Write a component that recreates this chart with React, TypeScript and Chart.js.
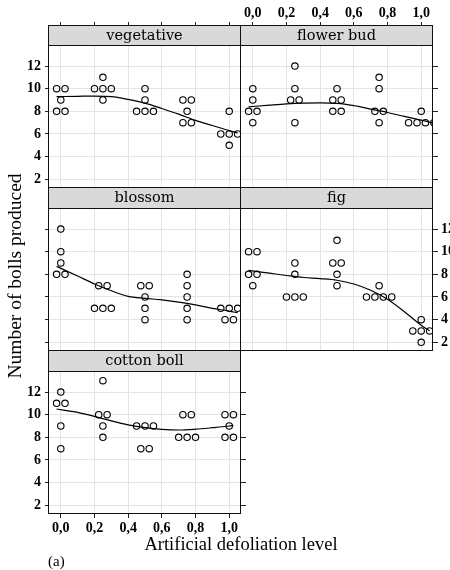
import React, { useEffect, useRef } from 'react';
import { Chart, registerables } from 'chart.js';

Chart.register(...registerables);

// ---------------- data ----------------
const xTickValues = [0, 0.2, 0.4, 0.6, 0.8, 1.0];
const xTickLabels = ['0,0', '0,2', '0,4', '0,6', '0,8', '1,0'];
const yTickValues = [2, 4, 6, 8, 10, 12];
const yTickLabels = ['2', '4', '6', '8', '10', '12'];

const panelNames = ['vegetative', 'flower bud', 'blossom', 'fig', 'cotton boll'];

// observed points (x = defoliation level, spread sideways as in the figure)
const vegetativeX = [-0.025, 0.025, 0, -0.025, 0.025, 0.25, 0.2, 0.25, 0.3, 0.25, 0.5, 0.5, 0.45, 0.5, 0.55, 0.725, 0.775, 0.75, 0.725, 0.775, 1.0, 0.95, 1.0, 1.05, 1.0];
const vegetativeY = [10, 10, 9, 8, 8, 11, 10, 10, 10, 9, 10, 9, 8, 8, 8, 9, 9, 8, 7, 7, 8, 6, 6, 6, 5];

const flowerBudX = [0, 0, -0.025, 0.025, 0, 0.25, 0.25, 0.225, 0.275, 0.25, 0.5, 0.475, 0.525, 0.475, 0.525, 0.75, 0.75, 0.725, 0.775, 0.75, 1.0, 0.925, 0.975, 1.025, 1.075];
const flowerBudY = [10, 9, 8, 8, 7, 12, 10, 9, 9, 7, 10, 9, 9, 8, 8, 11, 10, 8, 8, 7, 8, 7, 7, 7, 7];

const blossomX = [0, 0, 0, -0.025, 0.025, 0.225, 0.275, 0.2, 0.25, 0.3, 0.475, 0.525, 0.5, 0.5, 0.5, 0.75, 0.75, 0.75, 0.75, 0.75, 0.95, 1.0, 1.05, 0.975, 1.025];
const blossomY = [12, 10, 9, 8, 8, 7, 7, 5, 5, 5, 7, 7, 6, 5, 4, 8, 7, 6, 5, 4, 5, 5, 5, 4, 4];

const figX = [-0.025, 0.025, -0.025, 0.025, 0, 0.25, 0.25, 0.2, 0.25, 0.3, 0.5, 0.475, 0.525, 0.5, 0.5, 0.75, 0.675, 0.725, 0.775, 0.825, 1.0, 0.95, 1.0, 1.05, 1.0];
const figY = [10, 10, 8, 8, 7, 9, 8, 6, 6, 6, 11, 9, 9, 8, 7, 7, 6, 6, 6, 6, 4, 3, 3, 3, 2];

const cottonBollX = [0, -0.025, 0.025, 0, 0, 0.25, 0.225, 0.275, 0.25, 0.25, 0.45, 0.5, 0.55, 0.475, 0.525, 0.725, 0.775, 0.7, 0.75, 0.8, 0.975, 1.025, 1.0, 0.975, 1.025];
const cottonBollY = [12, 11, 11, 9, 7, 13, 10, 10, 9, 8, 9, 9, 9, 7, 7, 10, 10, 8, 8, 8, 10, 10, 9, 8, 8];

// smooth (loess-like) curves
const vegetativeSmoothX = [-0.025, 0.1, 0.2, 0.3, 0.4, 0.5, 0.6, 0.7, 0.8, 0.9, 1.0, 1.05];
const vegetativeSmoothY = [9.3, 9.33, 9.35, 9.3, 9.05, 8.72, 8.25, 7.75, 7.2, 6.75, 6.3, 6.1];

const flowerBudSmoothX = [-0.025, 0.1, 0.2, 0.3, 0.4, 0.5, 0.6, 0.7, 0.8, 0.9, 1.0, 1.075];
const flowerBudSmoothY = [8.4, 8.55, 8.66, 8.73, 8.75, 8.7, 8.5, 8.2, 7.9, 7.55, 7.22, 6.95];

const blossomSmoothX = [-0.025, 0.1, 0.2, 0.3, 0.4, 0.5, 0.6, 0.7, 0.8, 0.9, 1.0, 1.05];
const blossomSmoothY = [8.7, 7.85, 7.15, 6.55, 6.05, 5.88, 5.75, 5.55, 5.3, 5.0, 4.75, 4.6];

const figSmoothX = [-0.025, 0.1, 0.2, 0.3, 0.4, 0.5, 0.6, 0.7, 0.8, 0.9, 1.0, 1.05];
const figSmoothY = [8.35, 8.1, 7.9, 7.72, 7.62, 7.48, 7.15, 6.6, 5.8, 4.7, 3.5, 3.0];

const cottonBollSmoothX = [-0.025, 0.1, 0.2, 0.3, 0.4, 0.5, 0.6, 0.7, 0.8, 0.9, 1.0, 1.025];
const cottonBollSmoothY = [10.5, 10.2, 9.85, 9.45, 9.1, 8.85, 8.7, 8.65, 8.72, 8.85, 9.0, 9.05];

const pointsX = [vegetativeX, flowerBudX, blossomX, figX, cottonBollX];
const pointsY = [vegetativeY, flowerBudY, blossomY, figY, cottonBollY];
const smoothX = [vegetativeSmoothX, flowerBudSmoothX, blossomSmoothX, figSmoothX, cottonBollSmoothX];
const smoothY = [vegetativeSmoothY, flowerBudSmoothY, blossomSmoothY, figSmoothY, cottonBollSmoothY];

// ---------------- layout / style ----------------
const W = 450;
const H = 570;
const X_MIN = -0.07;
const X_MAX = 1.07;
const Y_MIN = 1.23;
const Y_MAX = 13.77;
const GRID = '#e4e4e4';
const TICK = '#222222';
const TICK_FONT = { family: '"Liberation Serif", serif', size: 14, weight: 'bold' as const };
const STRIP_FONT = '14.5px "DejaVu Serif", serif';

type Mode = 'none' | 'ticks' | 'labels';
interface PanelLayout {
  left: number; right: number; top: number; plotTop: number; bottom: number;
  xPos: 'top' | 'bottom'; xMode: Mode; yLeft: Mode; yRight: Mode;
}

const layouts: PanelLayout[] = [
  { left: 49, right: 241, top: 26, plotTop: 46, bottom: 188, xPos: 'top', xMode: 'ticks', yLeft: 'labels', yRight: 'none' },
  { left: 241, right: 433, top: 26, plotTop: 46, bottom: 188, xPos: 'top', xMode: 'labels', yLeft: 'none', yRight: 'ticks' },
  { left: 49, right: 241, top: 188, plotTop: 209, bottom: 351, xPos: 'bottom', xMode: 'none', yLeft: 'ticks', yRight: 'none' },
  { left: 241, right: 433, top: 188, plotTop: 209, bottom: 351, xPos: 'bottom', xMode: 'none', yLeft: 'none', yRight: 'labels' },
  { left: 49, right: 241, top: 351, plotTop: 372, bottom: 514, xPos: 'bottom', xMode: 'labels', yLeft: 'labels', yRight: 'ticks' },
];

const xSize = (m: Mode) => (m === 'labels' ? 24 : m === 'ticks' ? 4 : 0);
const ySize = (pos: 'left' | 'right', m: Mode) =>
  m === 'none' ? 0 : pos === 'left' ? (m === 'labels' ? 30 : 4) : (m === 'labels' ? 17 : 5);

const stripPlugin = {
  id: 'strip',
  afterDraw(chart: any, _args: any, opts: any) {
    const { ctx, chartArea } = chart;
    const { left, right, top, bottom } = chartArea;
    const sb = chart.scales.y.getPixelForValue(Y_MAX);
    const l = Math.round(left) - 0.5;
    const r = Math.round(right) - 0.5;
    const t = Math.round(top) - 0.5;
    const b = Math.round(bottom) - 0.5;
    const s = Math.round(sb) - 0.5;
    ctx.save();
    ctx.fillStyle = '#d9d9d9';
    ctx.fillRect(l, t, r - l, s - t);
    ctx.strokeStyle = '#111';
    ctx.lineWidth = 1;
    ctx.beginPath();
    ctx.moveTo(l, s);
    ctx.lineTo(r, s);
    ctx.stroke();
    ctx.strokeRect(l, t, r - l, b - t);
    ctx.fillStyle = '#000';
    ctx.font = STRIP_FONT;
    ctx.textAlign = 'center';
    ctx.textBaseline = 'middle';
    ctx.fillText(opts.label, (l + r) / 2, (t + s) / 2 + 0.5);
    ctx.restore();
  },
};

function yScale(l: PanelLayout, pos: 'left' | 'right', mode: Mode, primary: boolean) {
  const stripH = l.plotTop - l.top;
  const plotH = l.bottom - l.plotTop;
  const max = Y_MAX + (stripH * (Y_MAX - Y_MIN)) / plotH;
  return {
    type: 'linear',
    position: pos,
    min: Y_MIN,
    max,
    afterBuildTicks: (s: any) => {
      s.ticks = yTickValues.map((v) => ({ value: v }));
    },
    afterFit: (s: any) => {
      s.width = ySize(pos, mode);
    },
    border: { display: false },
    grid: {
      display: true,
      drawOnChartArea: primary,
      color: GRID,
      lineWidth: 1,
      drawTicks: true,
      tickLength: pos === 'left' ? 4 : 5,
      tickColor: TICK,
      tickWidth: 1,
    },
    ticks: {
      display: mode === 'labels',
      autoSkip: false,
      padding: pos === 'left' ? 4 : 3,
      color: '#000',
      font: TICK_FONT,
      callback: (_v: any, i: number) => yTickLabels[i],
    },
  };
}

function buildConfig(idx: number): any {
  const l = layouts[idx];
  const mainPos: 'left' | 'right' = l.yLeft !== 'none' ? 'left' : 'right';
  const mainMode = mainPos === 'left' ? l.yLeft : l.yRight;
  const scales: any = {
    x: {
      type: 'linear',
      position: l.xPos,
      min: X_MIN,
      max: X_MAX,
      afterBuildTicks: (s: any) => {
        s.ticks = xTickValues.map((v) => ({ value: v }));
      },
      afterFit: (s: any) => {
        s.height = xSize(l.xMode);
      },
      border: { display: false },
      grid: {
        display: true,
        color: GRID,
        lineWidth: 1,
        drawTicks: l.xMode !== 'none',
        tickLength: 4,
        tickColor: TICK,
        tickWidth: 1,
      },
      ticks: {
        display: l.xMode === 'labels',
        autoSkip: false,
        maxRotation: 0,
        minRotation: 0,
        padding: l.xPos === 'top' ? 0 : 2,
        color: '#000',
        font: TICK_FONT,
        callback: (_v: any, i: number) => xTickLabels[i],
      },
    },
    y: yScale(l, mainPos, mainMode, true),
  };
  if (l.yLeft !== 'none' && l.yRight !== 'none') {
    scales.y2 = yScale(l, 'right', l.yRight, false);
  }
  const padLeft = l.left - ySize('left', l.yLeft);
  const padRight = W - l.right - ySize('right', l.yRight);
  const padTop = l.top - (l.xPos === 'top' ? xSize(l.xMode) : 0);
  const padBottom = H - l.bottom - (l.xPos === 'bottom' ? xSize(l.xMode) : 0);

  const px = pointsX[idx];
  const py = pointsY[idx];
  const sx = smoothX[idx];
  const sy = smoothY[idx];

  return {
    type: 'scatter',
    data: {
      datasets: [
        {
          data: sx.map((x, i) => ({ x, y: sy[i] })),
          showLine: true,
          borderColor: '#000',
          borderWidth: 1.2,
          pointRadius: 0,
          pointHoverRadius: 0,
          cubicInterpolationMode: 'monotone',
          fill: false,
          clip: 0,
        },
        {
          data: px.map((x, i) => ({ x, y: py[i] })),
          showLine: false,
          pointStyle: 'circle',
          pointRadius: 3.2,
          pointHoverRadius: 3.2,
          pointBorderWidth: 1.1,
          pointBorderColor: '#000',
          pointBackgroundColor: 'rgba(0,0,0,0)',
          clip: 0,
        },
      ],
    },
    options: {
      responsive: false,
      animation: false,
      events: [],
      layout: { padding: { left: padLeft, right: padRight, top: padTop, bottom: padBottom } },
      plugins: {
        legend: { display: false },
        tooltip: { enabled: false },
        title: { display: false },
        strip: { label: panelNames[idx] },
      },
      scales,
    },
    plugins: [stripPlugin],
  };
}

export default function App() {
  const refs = useRef<(HTMLCanvasElement | null)[]>([]);

  useEffect(() => {
    const charts: Chart[] = [];
    layouts.forEach((_l, i) => {
      const c = refs.current[i];
      if (c) charts.push(new Chart(c, buildConfig(i)));
    });
    return () => charts.forEach((c) => c.destroy());
  }, []);

  const titleFont = '"Liberation Serif", serif';

  return (
    <div style={{ position: 'absolute', left: 0, top: 0, width: W, height: H, overflow: 'hidden', background: '#fff' }}>
      {layouts.map((_l, i) => (
        <canvas
          key={i}
          ref={(el) => {
            refs.current[i] = el;
          }}
          width={W}
          height={H}
          style={{ position: 'absolute', left: 0, top: 0, width: W, height: H }}
        />
      ))}
      <div
        style={{
          position: 'absolute',
          left: 15 - 140,
          top: 276 - 12,
          width: 280,
          height: 24,
          lineHeight: '24px',
          textAlign: 'center',
          transform: 'rotate(-90deg)',
          fontFamily: titleFont,
          fontSize: 19.5,
          color: '#000',
          whiteSpace: 'nowrap',
        }}
      >
        Number of bolls produced
      </div>
      <div
        style={{
          position: 'absolute',
          left: 41,
          top: 532,
          width: 400,
          height: 24,
          lineHeight: '24px',
          textAlign: 'center',
          fontFamily: titleFont,
          fontSize: 18.5,
          color: '#000',
          whiteSpace: 'nowrap',
        }}
      >
        Artificial defoliation level
      </div>
      <div
        style={{
          position: 'absolute',
          left: 48,
          top: 552,
          height: 18,
          lineHeight: '18px',
          fontFamily: titleFont,
          fontSize: 15,
          color: '#000',
        }}
      >
        (a)
      </div>
    </div>
  );
}
